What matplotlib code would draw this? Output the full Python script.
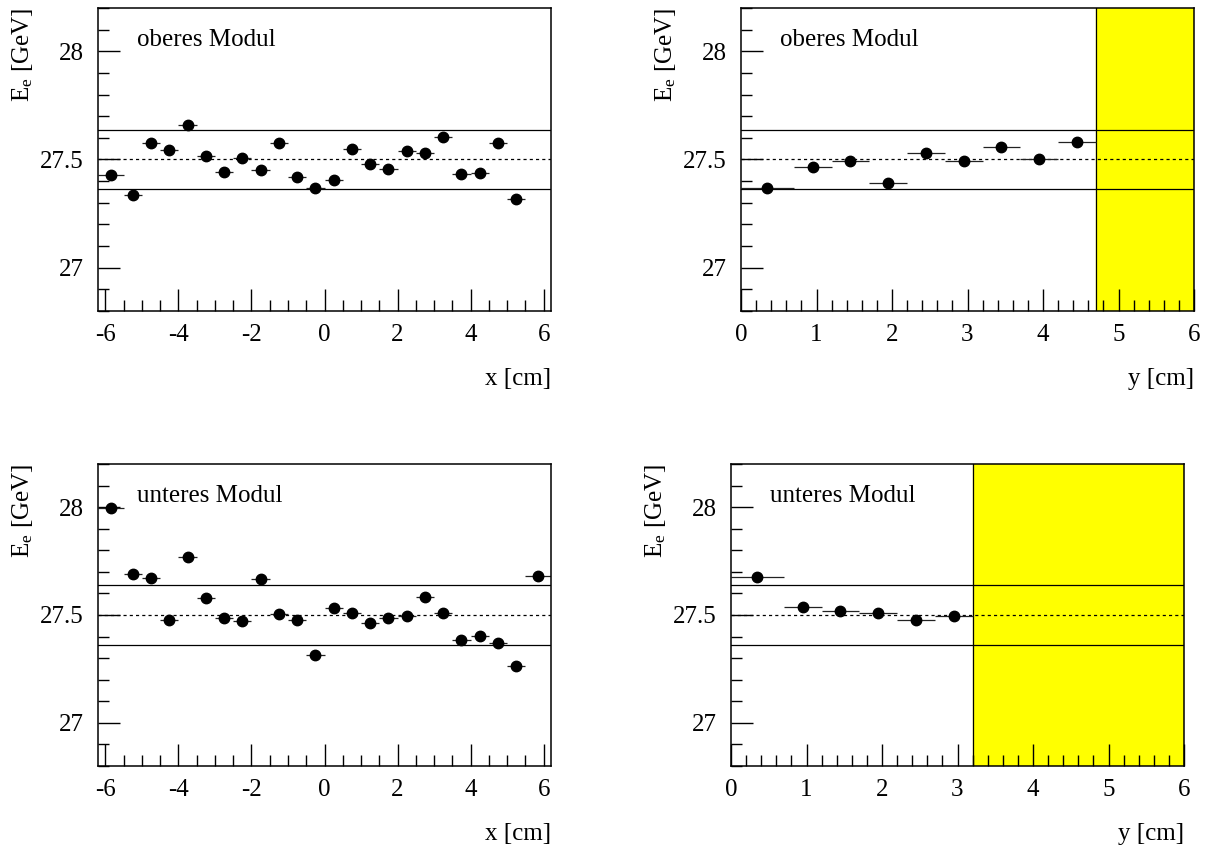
import matplotlib
matplotlib.use("Agg")
import matplotlib.pyplot as plt
from matplotlib.ticker import MultipleLocator
import numpy as np

plt.rcParams["font.family"] = ["Liberation Serif", "DejaVu Serif"]
plt.rcParams["mathtext.fontset"] = "custom"
plt.rcParams["mathtext.rm"] = "Liberation Serif"
plt.rcParams["mathtext.it"] = "Liberation Serif:italic"

# Strahlenergie-Sollwert und +-0.5 % Band
E_mean = 27.5
tol = 0.005

# Bins in x (cm), Randbins breiter
x_edges = [-6.2, -5.5, -5.0, -4.5, -4.0, -3.5, -3.0, -2.5, -2.0, -1.5, -1.0, -0.5,
           0.0, 0.5, 1.0, 1.5, 2.0, 2.5, 3.0, 3.5, 4.0, 4.5, 5.0, 5.5, 6.2]
# Bins in y (cm)
y_edges = [0.0, 0.7, 1.2, 1.7, 2.2, 2.7, 3.2, 3.7, 4.2, 4.7]

# oberes Modul
E_ob_x = [27.430, 27.336, 27.576, 27.546, 27.658, 27.515, 27.444, 27.509, 27.452,
          27.577, 27.418, 27.370, 27.403, 27.549, 27.481, 27.455, 27.540, 27.528,
          27.604, 27.435, 27.438, 27.577, 27.318]
E_ob_y = [27.370, 27.466, 27.495, 27.393, 27.532, 27.495, 27.557, 27.500, 27.579]
cut_ob = 4.7

# unteres Modul
E_un_x = [27.996, 27.690, 27.671, 27.477, 27.767, 27.578, 27.484, 27.470, 27.666,
          27.503, 27.477, 27.315, 27.534, 27.511, 27.464, 27.488, 27.494, 27.582,
          27.508, 27.382, 27.404, 27.370, 27.265, 27.682]
E_un_y = [27.678, 27.537, 27.517, 27.509, 27.477, 27.494]
cut_un = 3.2

W, H = 1206, 848
fig = plt.figure(figsize=(W / 100, H / 100), dpi=100)


def make_axes(l, t, r, b):
    return fig.add_axes([l / W, 1 - b / H, (r - l) / W, (b - t) / H])


def profil(ax, edges, vals, xlim, major, minor, xlab, text, cut=None):
    edges = np.array(edges[:len(vals) + 1])
    lo, hi = edges[:-1], edges[1:]
    xc = 0.5 * (lo + hi)
    if cut is not None:
        ax.axvspan(cut, xlim[1], color="#ffff00", zorder=0)
        ax.axvline(cut, color="black", lw=0.9, zorder=1)
    ax.axhline(E_mean * (1 + tol), color="black", lw=0.9, zorder=1)
    ax.axhline(E_mean * (1 - tol), color="black", lw=0.9, zorder=1)
    ax.axhline(E_mean, color="black", lw=0.9, ls=(0, (2.5, 2.5)), zorder=1)
    ax.errorbar(xc, vals, xerr=[xc - lo, hi - xc], fmt="o", color="black",
                ms=7.5, elinewidth=0.9, ecolor="#222222", capsize=0, zorder=3)
    ax.set_xlim(*xlim)
    ax.set_ylim(26.8, 28.2)
    ax.xaxis.set_major_locator(MultipleLocator(major))
    ax.xaxis.set_minor_locator(MultipleLocator(minor))
    ax.yaxis.set_major_locator(MultipleLocator(0.5))
    ax.yaxis.set_minor_locator(MultipleLocator(0.1))
    ax.yaxis.set_major_formatter(plt.FuncFormatter(lambda v, p: f"{v:g}"))
    ax.xaxis.set_major_formatter(plt.FuncFormatter(lambda v, p: f"{v:g}"))
    ax.tick_params(which="both", direction="in", top=False, right=False,
                   labelsize=18, width=1.0, zorder=4)
    ax.tick_params(which="major", length=16)
    ax.tick_params(which="minor", length=8)
    ax.tick_params(axis="y", which="major", pad=10)
    ax.tick_params(axis="x", which="major", pad=9)
    for s in ax.spines.values():
        s.set_linewidth(1.1)
        s.set_zorder(5)
    ax.text(1.0, -0.225, xlab, transform=ax.transAxes, ha="right", va="center",
            fontsize=18)
    ax.text(-0.166, 1.0, r"E$_{\mathrm{e}}$ [GeV]", transform=ax.transAxes,
            rotation=90, ha="center", va="top", fontsize=18)
    ax.text(0.086, 0.895, text, transform=ax.transAxes, ha="left",
            va="center", fontsize=18)


ax1 = make_axes(98, 8, 551, 311)
profil(ax1, x_edges, E_ob_x, (-6.2, 6.2), 2, 0.5, "x [cm]", "oberes Modul")

ax2 = make_axes(741, 8, 1194, 311)
profil(ax2, y_edges, E_ob_y, (0, 6), 1, 0.2, "y [cm]", "oberes Modul", cut=cut_ob)

ax3 = make_axes(98, 464, 551, 766)
profil(ax3, x_edges, E_un_x, (-6.2, 6.2), 2, 0.5, "x [cm]", "unteres Modul")

ax4 = make_axes(731, 464, 1184, 766)
profil(ax4, y_edges, E_un_y, (0, 6), 1, 0.2, "y [cm]", "unteres Modul", cut=cut_un)

fig.savefig("out.png", dpi=100)
